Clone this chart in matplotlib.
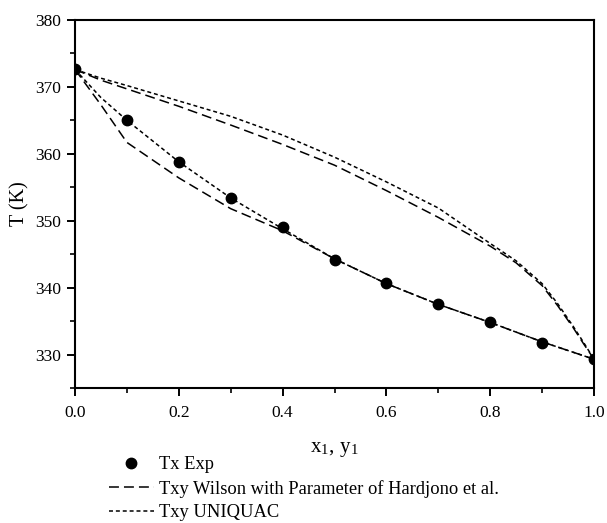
import matplotlib
matplotlib.use("Agg")
import matplotlib.pyplot as plt
from matplotlib.ticker import MultipleLocator

plt.rcParams["font.family"] = ["Liberation Serif", "DejaVu Serif"]
plt.rcParams["mathtext.fontset"] = "stix"

# experimental bubble points
x_exp = [0.0, 0.1, 0.2, 0.3, 0.4, 0.5, 0.6, 0.7, 0.8, 0.9, 1.0]
T_exp = [372.6, 365.1, 358.8, 353.4, 349.0, 344.2, 340.7, 337.6, 334.9, 331.8, 329.3]

# Wilson (Hardjono et al. parameters)
x_wil_bub = [0.0, 0.05, 0.1, 0.2, 0.3, 0.4, 0.5, 0.6, 0.7, 0.8, 0.9, 1.0]
T_wil_bub = [372.6, 367.3, 361.7, 356.4, 351.8, 348.5, 344.3, 340.6, 337.5, 334.8, 331.9, 329.3]
y_wil_dew = [0.0, 0.05, 0.1, 0.2, 0.3, 0.4, 0.5, 0.6, 0.7, 0.8, 0.85, 0.9, 0.93, 0.96, 0.98, 1.0]
T_wil_dew = [372.6, 371.0, 369.7, 367.1, 364.3, 361.4, 358.3, 354.5, 350.5, 346.2, 343.7, 340.3, 337.3, 334.0, 331.6, 329.3]

# UNIQUAC
x_uni_bub = [0.0, 0.05, 0.1, 0.2, 0.3, 0.4, 0.5, 0.6, 0.7, 0.8, 0.9, 1.0]
T_uni_bub = [372.6, 368.4, 365.0, 358.8, 353.4, 348.8, 344.3, 340.6, 337.5, 334.8, 331.9, 329.3]
y_uni_dew = [0.0, 0.05, 0.1, 0.2, 0.3, 0.4, 0.5, 0.6, 0.7, 0.8, 0.85, 0.9, 0.93, 0.96, 0.98, 1.0]
T_uni_dew = [372.6, 371.3, 370.2, 367.9, 365.6, 362.8, 359.5, 355.8, 351.9, 346.6, 344.0, 340.6, 337.6, 334.2, 331.8, 329.3]

fig = plt.figure(figsize=(6.07, 5.23), dpi=100)
ax = fig.add_axes([0.1236, 0.2581, 0.855, 0.7037])

lw = 1.1
wil_dash = (6.5, 3.3)
uni_dash = (2.6, 1.9)

ax.plot(x_exp, T_exp, "o", color="black", markersize=7.5, label="Tx Exp", zorder=3)
ax.plot(x_wil_bub, T_wil_bub, color="black", lw=lw, dashes=wil_dash,
        label="Txy Wilson with Parameter of Hardjono et al.")
ax.plot(y_wil_dew, T_wil_dew, color="black", lw=lw, dashes=wil_dash)
ax.plot(x_uni_bub, T_uni_bub, color="black", lw=lw, dashes=uni_dash, label="Txy UNIQUAC")
ax.plot(y_uni_dew, T_uni_dew, color="black", lw=lw, dashes=uni_dash)

ax.set_xlim(0, 1)
ax.set_ylim(325, 380)
ax.xaxis.set_major_locator(MultipleLocator(0.2))
ax.xaxis.set_minor_locator(MultipleLocator(0.1))
ax.yaxis.set_major_locator(MultipleLocator(10))
ax.yaxis.set_minor_locator(MultipleLocator(5))
ax.set_yticks([330, 340, 350, 360, 370, 380])
ax.xaxis.set_major_formatter(plt.FormatStrFormatter("%.1f"))

for s in ax.spines.values():
    s.set_linewidth(1.5)
ax.tick_params(which="major", direction="out", length=5.5, width=1.4,
               labelsize=12.5, pad=4.5)
ax.tick_params(axis="x", which="major", length=6, pad=6.5)
ax.tick_params(which="minor", direction="out", length=3.6, width=1.2)
ax.tick_params(top=False, right=False, which="both")

ax.set_xlabel(r"x$_\mathregular{1}$, y$_\mathregular{1}$", fontsize=15, labelpad=13.5)
ax.set_ylabel("T (K)", fontsize=14.5, labelpad=4)

fig.legend(loc="upper left", bbox_to_anchor=(0.18, 0.128), frameon=False,
           fontsize=13.3, handlelength=2.4, handletextpad=0.3,
           labelspacing=0.36, borderpad=0, borderaxespad=0)

fig.savefig("out.png", dpi=100)
